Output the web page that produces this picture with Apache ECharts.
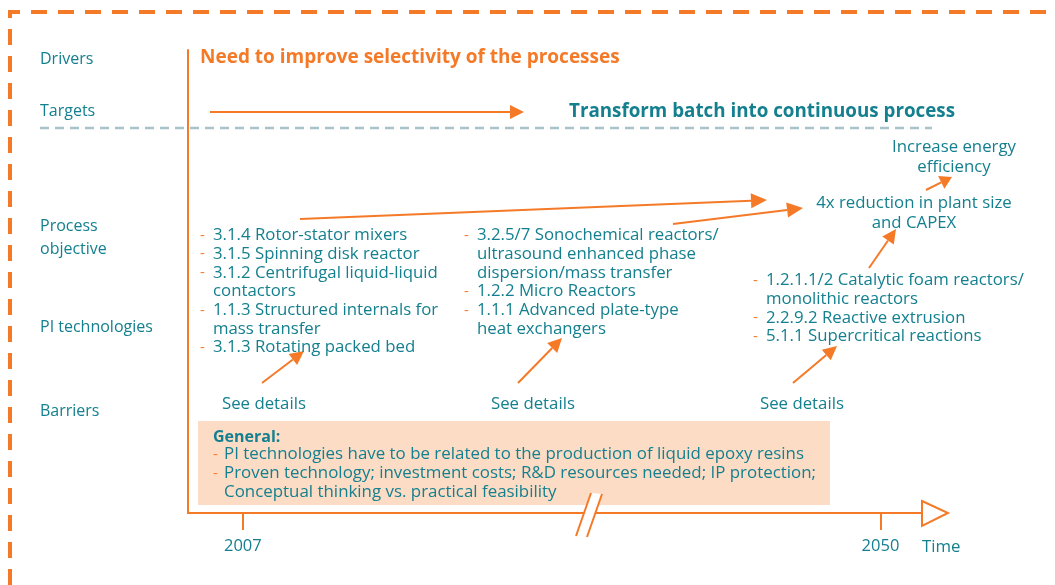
<!DOCTYPE html>
<html>
<head>
<meta charset="utf-8">
<script src="https://cdn.jsdelivr.net/npm/echarts@6/dist/echarts.min.js"></script>
<style>
  html, body { margin: 0; padding: 0; background: #fff; }
  #chart { width: 1055px; height: 585px; }
</style>
</head>
<body>
<div id="chart"></div>
<script>
// data
var rowLabels = ["Drivers", "Targets", "Process\nobjective", "PI technologies", "Barriers"];
var driverText = "Need to improve selectivity of the processes";
var targetText = "Transform batch into continuous process";
var objectives = ["Increase energy\nefficiency", "4x reduction in plant size\nand CAPEX"];
var techCol1 = ["3.1.4 Rotor-stator mixers", "3.1.5 Spinning disk reactor",
  "3.1.2 Centrifugal liquid-liquid\ncontactors", "1.1.3 Structured internals for\nmass transfer",
  "3.1.3 Rotating packed bed"];
var techCol2 = ["3.2.5/7 Sonochemical reactors/\nultrasound enhanced phase\ndispersion/mass transfer",
  "1.2.2 Micro Reactors", "1.1.1 Advanced plate-type\nheat exchangers"];
var techCol3 = ["1.2.1.1/2 Catalytic foam reactors/\nmonolithic reactors", "2.2.9.2 Reactive extrusion",
  "5.1.1 Supercritical reactions"];
var barrierTitle = "General:";
var barrierLines = ["PI technologies have to be related to the production of liquid epoxy resins",
  "Proven technology; investment costs; R&D resources needed; IP protection;\nConceptual thinking vs. practical feasibility"];
var detailsText = "See details";
var timeTicks = [2007, 2050];
var timeName = "Time";

var ORANGE = "#f47a28";
var TEAL = "#14808f";
var FONT = "'Open Sans'";
var DY = 1.5; // baseline nudge for all text

const chart = echarts.init(document.getElementById("chart"));

function txt(x, y, text, opt) {
  opt = opt || {};
  return {
    type: "text", x: x, y: y + DY, z: 10,
    style: {
      text: text, fill: opt.color || TEAL, font: (opt.weight || "normal") + " " + (opt.size || 16.8) + "px " + FONT,
      align: opt.align || "left", verticalAlign: "middle", lineHeight: opt.lh || 19
    }
  };
}

// arrow from (x1,y1) to tip (x2,y2)
function arrow(x1, y1, x2, y2, headLen, headW) {
  headLen = headLen || 16; headW = headW || 7;
  var a = Math.atan2(y2 - y1, x2 - x1);
  var bx = x2 - headLen * Math.cos(a), by = y2 - headLen * Math.sin(a);
  var px = -Math.sin(a) * headW, py = Math.cos(a) * headW;
  return [
    { type: "line", z: 5, shape: { x1: x1, y1: y1, x2: bx, y2: by }, style: { stroke: ORANGE, lineWidth: 2 } },
    { type: "polygon", z: 5, shape: { points: [[x2, y2], [bx + px, by + py], [bx - px, by - py]] }, style: { fill: ORANGE } }
  ];
}

// list with orange dashes
function techList(x, y, items) {
  var out = [], line = 0;
  items.forEach(function (it) {
    var n = it.split("\n").length;
    out.push(txt(x, y + line * 18.7, "-", { color: ORANGE, size: 15 }));
    out.push(txt(x + 13, y + line * 18.7 + (n - 1) * 18.7 / 2, it, { lh: 18.7 }));
    line += n;
  });
  return out;
}

var graphics = [];
// dashed frame
graphics.push({ type: "polyline", z: 1, shape: { points: [[10, 585], [10, 12], [1055, 12]] },
  style: { stroke: ORANGE, lineWidth: 4, fill: null, lineDash: [16, 11] } });
// separator between targets and objectives
graphics.push({ type: "line", z: 1, shape: { x1: 40, y1: 128, x2: 932, y2: 128 },
  style: { stroke: "#a9c3cb", lineWidth: 2.5, lineDash: [9, 6] } });

// row labels
var rowY = [58, 110, 236, 326, 410];
rowLabels.forEach(function (r, i) { graphics.push(txt(40, rowY[i], r, { size: 16, lh: 23 })); });

graphics.push(txt(200, 56, driverText, { color: ORANGE, weight: "bold", size: 19 }));
graphics = graphics.concat(arrow(210, 112, 524, 112, 14, 7));
graphics.push(txt(569, 110, targetText, { weight: "bold", size: 18.8 }));

graphics.push(txt(954, 156, objectives[0], { align: "center", lh: 20 }));
graphics.push(txt(914, 212, objectives[1], { align: "center", lh: 20 }));
graphics = graphics.concat(arrow(926, 190, 952, 177, 12, 7));
graphics = graphics.concat(arrow(300, 219, 767, 200, 16, 7.5));
graphics = graphics.concat(arrow(673, 224, 803, 208, 16, 7.5));
graphics = graphics.concat(arrow(869, 268, 896, 229, 14, 7));

graphics = graphics.concat(techList(200, 234, techCol1));
graphics = graphics.concat(techList(464, 234, techCol2));
graphics = graphics.concat(techList(753, 279, techCol3));

graphics = graphics.concat(arrow(262, 383, 304, 351, 14, 7));
graphics = graphics.concat(arrow(518, 383, 562, 338, 14, 7));
graphics = graphics.concat(arrow(793, 383, 837, 346, 14, 7));
[222, 491, 760].forEach(function (x) { graphics.push(txt(x, 403, detailsText)); });

// barrier box
graphics.push({ type: "rect", z: 2, shape: { x: 198, y: 421, width: 632, height: 84 }, style: { fill: "#fcdcc5" } });
graphics.push(txt(213, 436, barrierTitle, { weight: "bold", size: 16 }));
graphics.push(txt(213, 453, "-", { color: ORANGE, size: 15 }));
graphics.push(txt(224, 453, barrierLines[0], { size: 16.9 }));
graphics.push(txt(213, 472, "-", { color: ORANGE, size: 15 }));
graphics.push(txt(224, 481.5, barrierLines[1], { size: 16.9 }));

// axis break
graphics.push({ type: "polygon", z: 20, shape: { points: [[591, 493], [602, 494], [587, 537], [576, 536]] }, style: { fill: "#fff" } });
graphics.push({ type: "line", z: 21, shape: { x1: 591, y1: 493, x2: 576, y2: 536 }, style: { stroke: ORANGE, lineWidth: 2 } });
graphics.push({ type: "line", z: 21, shape: { x1: 602, y1: 494, x2: 587, y2: 537 }, style: { stroke: ORANGE, lineWidth: 2 } });
// open arrow head of time axis
graphics.push({ type: "polygon", z: 20, shape: { points: [[922, 501], [948, 513], [922, 526]] },
  style: { fill: "#fff", stroke: ORANGE, lineWidth: 2 } });
graphics.push(txt(922, 546, timeName));

var option = {
  backgroundColor: "#fff",
  animation: false,
  grid: { left: 188, right: 133, top: 50, bottom: 72 },
  xAxis: {
    type: "value",
    min: 2003.3,
    max: 2052.8,
    splitLine: { show: false },
    axisLine: { show: true, lineStyle: { color: ORANGE, width: 2 } },
    axisTick: { show: true, customValues: timeTicks, length: 17, lineStyle: { color: ORANGE, width: 2 } },
    axisLabel: { show: true, customValues: timeTicks, color: TEAL, fontFamily: "Open Sans", fontSize: 16.5, margin: 25,
      formatter: function (v) { return String(v); } }
  },
  yAxis: {
    type: "value", min: 0, max: 1,
    splitLine: { show: false },
    axisLine: { show: true, lineStyle: { color: ORANGE, width: 2 } },
    axisTick: { show: false },
    axisLabel: { show: false }
  },
  series: [],
  graphic: graphics
};
chart.setOption(option);
window.onresize = chart.resize;
</script>
</body>
</html>
